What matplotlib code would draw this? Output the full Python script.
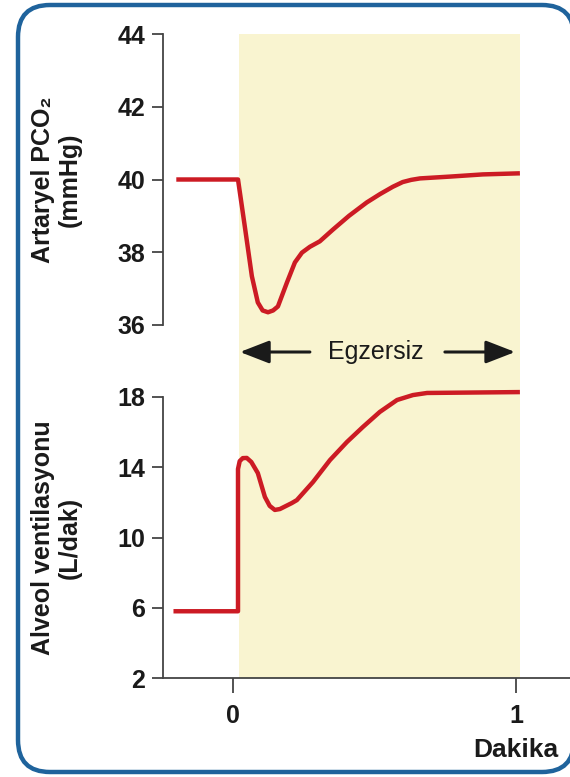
import matplotlib
matplotlib.use("Agg")
import matplotlib.pyplot as plt
from matplotlib.patches import FancyBboxPatch

plt.rcParams["font.family"] = ["Liberation Sans", "DejaVu Sans"]

# arterial PCO2 (mmHg) vs time (min)
t_pco2 = [-0.2, 0.018, 0.042, 0.067, 0.088, 0.105, 0.124, 0.142, 0.159, 0.191,
          0.219, 0.244, 0.272, 0.307, 0.353, 0.41, 0.473, 0.52, 0.565, 0.6,
          0.63, 0.661, 0.767, 0.883, 1.014]
pco2 = [40.0, 40.0, 38.71, 37.34, 36.62, 36.4, 36.35, 36.4, 36.51, 37.17,
        37.72, 37.99, 38.15, 38.3, 38.62, 39.0, 39.37, 39.6, 39.8, 39.93,
        39.99, 40.03, 40.08, 40.14, 40.17]

# alveolar ventilation (L/min) vs time (min)
t_vent = [-0.21, 0.018, 0.018, 0.024, 0.035, 0.049, 0.065, 0.088, 0.113, 0.13,
          0.148, 0.166, 0.208, 0.226, 0.283, 0.343, 0.403, 0.459, 0.519, 0.58,
          0.636, 0.686, 1.014]
vent = [5.8, 5.8, 13.9, 14.35, 14.52, 14.53, 14.3, 13.67, 12.31, 11.8,
        11.57, 11.62, 11.96, 12.13, 13.16, 14.41, 15.44, 16.29, 17.15, 17.83,
        18.11, 18.23, 18.28]

pco2_ticks = [36, 38, 40, 42, 44]
vent_ticks = [2, 6, 10, 14, 18]
x_ticks = [0, 1]
exercise = (0.02, 1.015)

RED = "#cc1b24"
YELLOW = "#f9f4d0"
SPINE = "#444444"
TXT = "#1a1a1a"
BORDER = "#1f639c"

XLIM = (-0.247, 1.191)
W, H = 570, 777

fig = plt.figure(figsize=(W / 100, H / 100), dpi=100, facecolor="white")

# rounded frame, drawn in pixel units on a full-figure axes (white face keeps
# agg from clipping the open stroke at the canvas edge)
ax_frame = fig.add_axes([0, 0, 1, 1])
ax_frame.set_xlim(0, W)
ax_frame.set_ylim(0, H)
ax_frame.axis("off")
ax_frame.add_patch(FancyBboxPatch((18, 5), 556, 767, boxstyle="round,pad=0,rounding_size=32",
                                  facecolor="white", edgecolor=BORDER, linewidth=3.2,
                                  clip_on=False))

left = 163 / W
width = 1 - left

# background axes: shading + exercise arrow
ax_bg = fig.add_axes([left, (H - 678) / H, width, 644 / H])
ax_bg.set_xlim(*XLIM)
ax_bg.set_ylim(0, 1)
ax_bg.axis("off")
ax_bg.axvspan(*exercise, color=YELLOW, lw=0, zorder=0)
ymid = (678 - 352) / 644
ax_bg.text(0.505, ymid, "Egzersiz", ha="center", va="center", fontsize=18, color=TXT)
arrow = dict(arrowstyle="-|>,head_length=0.9,head_width=0.35", color=TXT, lw=2.2,
             mutation_scale=20, shrinkA=0, shrinkB=0)
ax_bg.annotate("", xy=(0.025, ymid), xytext=(0.272, ymid), arrowprops=arrow)
ax_bg.annotate("", xy=(0.997, ymid), xytext=(0.749, ymid), arrowprops=arrow)

ax1 = fig.add_axes([left, (H - 325) / H, width, 291 / H])
ax2 = fig.add_axes([left, (H - 678) / H, width, 281 / H])

for ax in (ax1, ax2):
    ax.patch.set_alpha(0)
    ax.set_xlim(*XLIM)
    for s in ("top", "right"):
        ax.spines[s].set_visible(False)
    ax.spines["left"].set_color(SPINE)
    ax.spines["left"].set_linewidth(1.3)
    ax.tick_params(axis="y", length=8, width=1.3, color=SPINE, pad=5,
                   labelsize=18, labelcolor=TXT)

ax1.spines["bottom"].set_visible(False)
ax1.set_xticks([])
ax1.set_ylim(36, 44)
ax1.set_yticks(pco2_ticks)
ax1.set_yticklabels([str(v) for v in pco2_ticks], fontweight="bold")
ax1.plot(t_pco2, pco2, color=RED, lw=3.2, solid_joinstyle="round",
         solid_capstyle="butt", clip_on=False)

ax2.set_ylim(2, 18)
ax2.set_yticks(vent_ticks)
ax2.set_yticklabels([str(v) for v in vent_ticks], fontweight="bold")
ax2.spines["bottom"].set_color(SPINE)
ax2.spines["bottom"].set_linewidth(1.3)
ax2.set_xticks(x_ticks)
ax2.set_xticklabels([str(v) for v in x_ticks], fontweight="bold")
ax2.tick_params(axis="x", length=11, width=1.3, color=SPINE, pad=8,
                labelsize=18, labelcolor=TXT)
ax2.plot(t_vent, vent, color=RED, lw=3.2, solid_joinstyle="round",
         solid_capstyle="butt", clip_on=False)

lbl_x = (56 - 163) / (W - 163)
ax1.text(lbl_x, 0.5, "Artaryel PCO\u2082\n(mmHg)", transform=ax1.transAxes, rotation=90,
         ha="center", va="center", fontsize=18, fontweight="bold", color=TXT,
         multialignment="center", linespacing=1.15)
ax2.text(lbl_x, 0.5, "Alveol ventilasyonu\n(L/dak)", transform=ax2.transAxes, rotation=90,
         ha="center", va="center", fontsize=18, fontweight="bold", color=TXT,
         multialignment="center", linespacing=1.15)

fig.text(558 / W, (H - 750) / H, "Dakika", ha="right", va="center", fontsize=19,
         fontweight="bold", color=TXT)

fig.savefig("out.png", dpi=100, facecolor="white")
